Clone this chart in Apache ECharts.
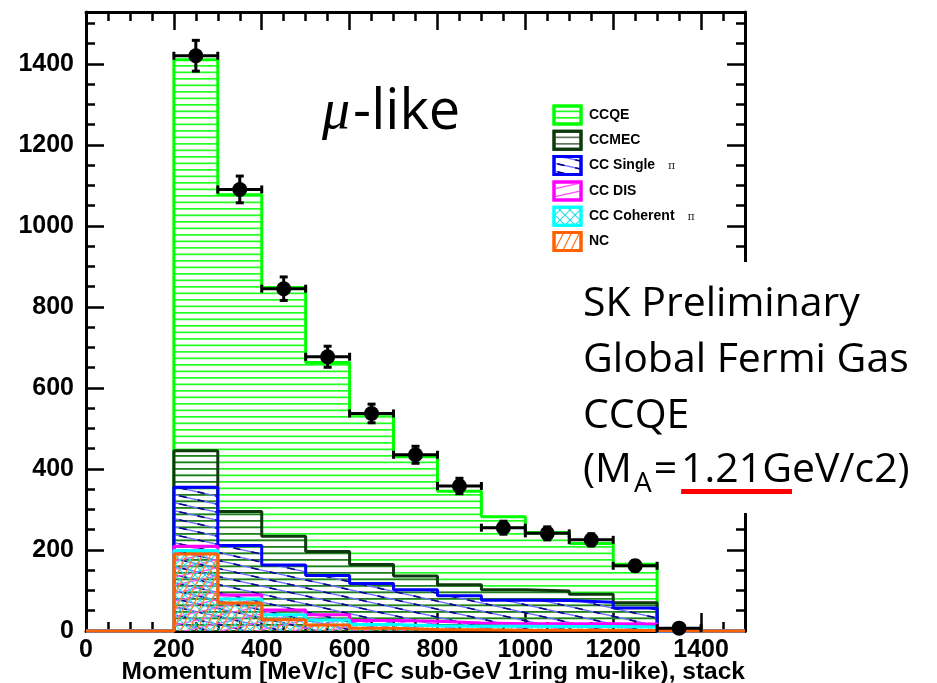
<!DOCTYPE html>
<html>
<head>
<meta charset="utf-8">
<title>FC sub-GeV 1ring mu-like momentum</title>
<script src="https://cdn.jsdelivr.net/npm/echarts@6/dist/echarts.min.js"></script>
<style>
html,body{margin:0;padding:0;background:#fff;}
#chart{width:937px;height:683px;}
</style>
</head>
<body>
<div id="chart"></div>
<script>
// Momentum bins: lower edges in MeV/c, each bin 100 MeV/c wide
const binLow = [0, 100, 200, 300, 400, 500, 600, 700, 800, 900, 1000, 1100, 1200, 1300, 1400];
const binWidth = 100;
const xMax = 1500;
const yMax = 1528;
const xTitle = 'Momentum [MeV/c] (FC sub-GeV 1ring mu-like), stack';

// Simulated events per bin, one array per interaction mode
const ccqe         = [0, 0, 965, 782, 614, 467, 371, 294, 231, 180, 144, 125, 95, 0, 0];
const ccmec        = [0, 0,  90,  84,  71,  59,  47,  34,  27,  26,  24,  20, 13, 0, 0];
const ccSinglePi   = [0, 0, 146, 122, 111,  97,  91,  78,  67,  58,  57,  53, 40, 0, 0];
const ccDis        = [0, 0,  10,  10,  12,  13,  10,  11,   8,   6,   7,   7,  7, 0, 0];
const ccCoherentPi = [0, 0,   9,  10,  12,  12,   9,   9,   9,  10,   9,   9,  9, 0, 0];
const nc           = [0, 0, 190,  69,  28,  15,   7,   4,   3,   2,   2,   2,  1, 0, 0];

// Observed events (bin centre, count, statistical error)
const dataMomentum = [250, 350, 450, 550, 650, 750, 850, 950, 1050, 1150, 1250, 1350];
const dataEvents   = [1420, 1090, 845, 677, 537, 435, 358, 255, 241, 225, 161, 7];
const dataError    = [38, 33, 29, 26, 23, 21, 19, 16, 16, 15, 13, 3];

// Axis ticks
const majorStep = 200;
const minorStep = 50;

const FONT = '"Liberation Sans", Arial, sans-serif';
const SLIDE_FONT = '"Open Sans", "Noto Sans", sans-serif';

// ---- hatch patterns (transparent, so stacked fills overlay like ROOT) ----
function makePattern(w, h, draw) {
  const c = document.createElement('canvas');
  c.width = w; c.height = h;
  const ctx = c.getContext('2d');
  draw(ctx, w, h);
  return { image: c, repeat: 'repeat' };
}
const patQE = makePattern(8, 13, (ctx, w) => {
  ctx.fillStyle = '#22ff22';
  ctx.fillRect(0, 0, w, 1.7);
  ctx.fillRect(0, 6.5, w, 1.7);
});
const patMEC = makePattern(8, 13, (ctx, w) => {
  ctx.fillStyle = 'rgba(40,75,40,0.75)';
  ctx.fillRect(0, 0, w, 1.7);
  ctx.fillRect(0, 6.5, w, 1.7);
});
const patSingle = makePattern(36, 8, (ctx, w, h) => {
  ctx.lineWidth = 1.3;
  ctx.strokeStyle = '#7070ff';
  for (let k = -1; k <= 1; k++) { ctx.beginPath(); ctx.moveTo(0, k * h); ctx.lineTo(w, k * h + h); ctx.stroke(); }
  ctx.strokeStyle = '#000080';
  ctx.lineWidth = 1.6;
  ctx.setLineDash([7, 11]);
  for (let k = -1; k <= 1; k++) { ctx.beginPath(); ctx.moveTo(0, k * h); ctx.lineTo(w, k * h + h); ctx.stroke(); }
});
const patDIS = makePattern(36, 8, (ctx, w, h) => {
  ctx.lineWidth = 1.3;
  ctx.strokeStyle = '#ff55ff';
  for (let k = -1; k <= 1; k++) { ctx.beginPath(); ctx.moveTo(0, k * h + h); ctx.lineTo(w, k * h); ctx.stroke(); }
});
const patCoh = makePattern(10, 10, (ctx, w, h) => {
  ctx.lineWidth = 1.1;
  ctx.strokeStyle = '#20e0e0';
  ctx.beginPath(); ctx.moveTo(0, 0); ctx.lineTo(w, h); ctx.stroke();
  ctx.beginPath(); ctx.moveTo(0, h); ctx.lineTo(w, 0); ctx.stroke();
});
const patNC = makePattern(8, 16, (ctx, w, h) => {
  ctx.lineWidth = 1.3;
  ctx.strokeStyle = '#ff8030';
  for (let dx = -w; dx <= w; dx += w) { ctx.beginPath(); ctx.moveTo(dx, h); ctx.lineTo(dx + w, 0); ctx.stroke(); }
});

// Interaction modes, legend order (top of the stack first)
const modes = [
  { name: 'CCQE',         values: ccqe,         color: '#00ff00', pattern: patQE,     pi: false },
  { name: 'CCMEC',        values: ccmec,        color: '#0c3a0c', pattern: patMEC,    pi: false },
  { name: 'CC Single',    values: ccSinglePi,   color: '#0000ff', pattern: patSingle, pi: true },
  { name: 'CC DIS',       values: ccDis,        color: '#ff00ff', pattern: patDIS,    pi: false },
  { name: 'CC Coherent',  values: ccCoherentPi, color: '#00ffff', pattern: patCoh,    pi: true },
  { name: 'NC',           values: nc,           color: '#ff6000', pattern: patNC,     pi: false }
];

// Stack from the bottom (NC) up; each mode is drawn as its cumulative sum
const cumulative = {};
let running = binLow.map(() => 0);
for (let k = modes.length - 1; k >= 0; k--) {
  running = running.map((v, i) => v + modes[k].values[i]);
  cumulative[modes[k].name] = running.slice();
}

function stepPoints(vals) {
  return binLow.map((x, i) => [x, vals[i]]).concat([[xMax, 0]]);
}

const histSeries = modes.map((m, idx) => ({
  name: m.name,
  type: 'line',
  step: 'end',
  data: stepPoints(cumulative[m.name]),
  symbol: 'none',
  clip: false,
  z: 2 + idx * 0.01,
  lineStyle: { color: m.color, width: 3 },
  areaStyle: { color: m.pattern, opacity: 1 },
  silent: true
}));

const dataPoints = dataMomentum.map((x, i) => [x, dataEvents[i], dataError[i]]);

const errorSeries = {
  type: 'custom',
  z: 5,
  data: dataPoints,
  renderItem: function (params, api) {
    const x = api.value(0), y = api.value(1), e = api.value(2);
    const l = api.coord([x - binWidth / 2, y]);
    const r = api.coord([x + binWidth / 2, y]);
    const t = api.coord([x, y + e]);
    const b = api.coord([x, y - e]);
    const st = { stroke: '#000', lineWidth: 3 };
    const cap = 4;
    return {
      type: 'group',
      children: [
        { type: 'line', shape: { x1: l[0], y1: l[1], x2: r[0], y2: r[1] }, style: st },
        { type: 'line', shape: { x1: t[0], y1: t[1], x2: b[0], y2: b[1] }, style: st },
        { type: 'line', shape: { x1: l[0], y1: l[1] - cap, x2: l[0], y2: l[1] + cap }, style: st },
        { type: 'line', shape: { x1: r[0], y1: r[1] - cap, x2: r[0], y2: r[1] + cap }, style: st },
        { type: 'line', shape: { x1: t[0] - cap, y1: t[1], x2: t[0] + cap, y2: t[1] }, style: st },
        { type: 'line', shape: { x1: b[0] - cap, y1: b[1], x2: b[0] + cap, y2: b[1] }, style: st }
      ]
    };
  }
};

const dotSeries = {
  type: 'scatter',
  z: 6,
  data: dataPoints.map(p => [p[0], p[1]]),
  symbol: 'circle',
  symbolSize: 15,
  itemStyle: { color: '#000', opacity: 1 },
  silent: true
};

// ---- frame axes: major/minor ticks on all four sides, pointing inward ----
function axis(kind, position, step, tickLen, opts) {
  const isX = kind === 'x';
  const base = {
    type: 'value',
    position: position,
    min: 0,
    max: isX ? xMax : yMax,
    interval: step,
    splitLine: { show: false },
    axisLine: { show: !!opts.line, onZero: false, lineStyle: { color: '#000', width: 3 } },
    axisTick: { show: true, inside: true, length: tickLen, lineStyle: { color: '#000', width: 2.5 } },
    axisLabel: { show: false }
  };
  if (opts.labels) {
    base.axisLabel = {
      show: true, showMaxLabel: false, color: '#000',
      fontFamily: FONT, fontWeight: 'bold', fontSize: 25,
      margin: isX ? 7 : 12,
      formatter: v => String(v)
    };
  }
  return base;
}

const xAxes = [
  axis('x', 'bottom', majorStep, 18, { line: true, labels: true }),
  axis('x', 'bottom', minorStep, 9, {}),
  axis('x', 'top', majorStep, 18, { line: true }),
  axis('x', 'top', minorStep, 9, {})
];
const yAxes = [
  axis('y', 'left', majorStep, 18, { line: true, labels: true }),
  axis('y', 'left', minorStep, 9, {}),
  axis('y', 'right', majorStep, 18, { line: true }),
  axis('y', 'right', minorStep, 9, {})
];

// ---- legend, axis title and slide annotations ----
const measureCtx = document.createElement('canvas').getContext('2d');
function textWidth(str, font) { measureCtx.font = font; return measureCtx.measureText(str).width; }

const graphics = [];

// x-axis title, right-aligned with the frame
graphics.push({ type: 'text', x: 745, y: 672, z: 101,
  style: { text: xTitle, font: 'bold 24.5px ' + FONT, fill: '#000', align: 'right', verticalAlign: 'middle' } });

const legendX = 554, legendY0 = 115, legendDy = 25.3;
const legendFont = 'bold 14px ' + FONT;
modes.forEach((m, i) => {
  const cy = legendY0 + i * legendDy;
  graphics.push({ type: 'rect', shape: { x: legendX, y: cy - 9, width: 27, height: 18 },
    style: { fill: '#fff', stroke: m.color, lineWidth: 3 }, z: 100 });
  graphics.push({ type: 'rect', shape: { x: legendX, y: cy - 9, width: 27, height: 18 },
    style: { fill: m.pattern, stroke: m.color, lineWidth: 3 }, z: 101 });
  graphics.push({ type: 'text', x: legendX + 35, y: cy, z: 101,
    style: { text: m.name, font: legendFont, fill: '#000', align: 'left', verticalAlign: 'middle' } });
  if (m.pi) {
    const w = textWidth(m.name, legendFont);
    graphics.push({ type: 'text', x: legendX + 35 + w + 13, y: cy + 1, z: 101,
      style: { text: 'π', font: '11px "DejaVu Serif", serif', fill: '#222', align: 'left', verticalAlign: 'middle' } });
  }
});

// mu-like label
const muFont = 'italic 56px "Liberation Serif", serif';
const likeFont = '56px ' + SLIDE_FONT;
const muX = 322, muY = 113;
graphics.push({ type: 'text', x: muX, y: muY, z: 101,
  style: { text: 'μ', font: muFont, fill: '#000', align: 'left', verticalAlign: 'middle' } });
graphics.push({ type: 'text', x: muX + textWidth('μ', muFont) + 3, y: muY, z: 101,
  style: { text: '-like', font: likeFont, fill: '#000', align: 'left', verticalAlign: 'middle' } });

// model description block on a white panel
graphics.push({ type: 'rect', z: 100, shape: { x: 572, y: 262, width: 365, height: 251 },
  style: { fill: '#fff' } });
const slideFont = '41px ' + SLIDE_FONT;
const subFont = '28px ' + SLIDE_FONT;
const blockX = 583;
const blockLines = ['SK Preliminary', 'Global Fermi Gas', 'CCQE'];
const lineYs = [304, 360, 416, 470];
blockLines.forEach((t, i) => {
  graphics.push({ type: 'text', x: blockX, y: lineYs[i], z: 101,
    style: { text: t, font: slideFont, fill: '#000', align: 'left', verticalAlign: 'middle' } });
});
let cx = blockX;
const l4 = lineYs[3];
graphics.push({ type: 'text', x: cx, y: l4, z: 101,
  style: { text: '(M', font: slideFont, fill: '#000', align: 'left', verticalAlign: 'middle' } });
cx += textWidth('(M', slideFont) + 2;
graphics.push({ type: 'text', x: cx, y: l4 + 14, z: 101,
  style: { text: 'A', font: subFont, fill: '#000', align: 'left', verticalAlign: 'middle' } });
cx += textWidth('A', subFont) + 2;
graphics.push({ type: 'text', x: cx, y: l4, z: 101,
  style: { text: '=', font: slideFont, fill: '#000', align: 'left', verticalAlign: 'middle' } });
cx += textWidth('=', slideFont) + 4;
const ulStart = cx;
graphics.push({ type: 'text', x: cx, y: l4, z: 101,
  style: { text: '1.21GeV/c2)', font: slideFont, fill: '#000', align: 'left', verticalAlign: 'middle' } });
const ulEnd = cx + textWidth('1.21G', slideFont);
graphics.push({ type: 'rect', z: 102, shape: { x: ulStart, y: l4 + 19, width: ulEnd - ulStart, height: 5 },
  style: { fill: '#ff0000' } });

const chart = echarts.init(document.getElementById('chart'), null, { renderer: 'canvas' });
chart.setOption({
  animation: false,
  backgroundColor: '#fff',
  grid: { left: 86, right: 192, top: 12, bottom: 52, containLabel: false, outerBoundsMode: 'none', show: false },
  xAxis: xAxes,
  yAxis: yAxes,
  series: histSeries.concat([errorSeries, dotSeries]),
  graphic: graphics
});
</script>
</body>
</html>
